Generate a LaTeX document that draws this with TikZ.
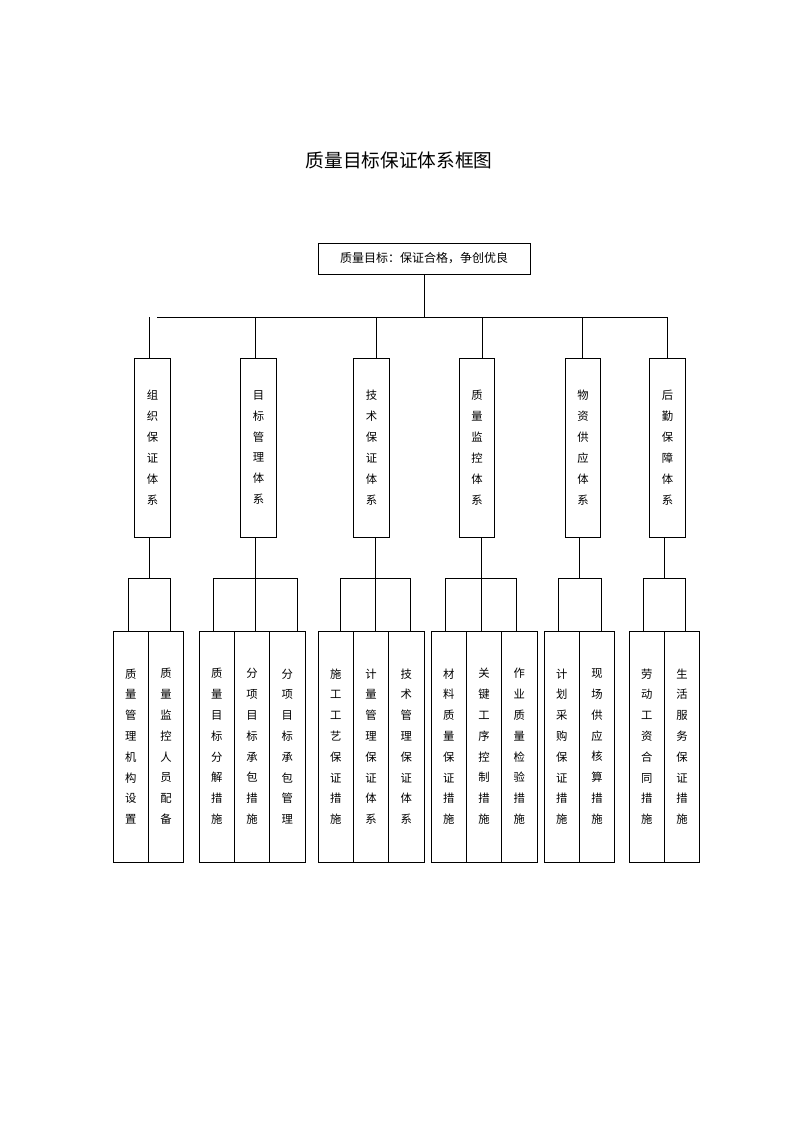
\documentclass[tikz,border=0pt]{standalone}
\usepackage{fontspec}
\newfontfamily\cjk{Noto Sans CJK SC}
\usetikzlibrary{positioning,calc}
\tikzset{%
	goal/.style     = {draw, rectangle, outer sep=0pt, minimum width=159pt, minimum height=23.25pt, font=\cjk\fontsize{9}{11}\selectfont},
	sysbox/.style   = {draw, rectangle, outer sep=0pt, minimum width=26.6pt, minimum height=134.25pt, align=center, font=\cjk\fontsize{8.5}{15.7}\selectfont}, % second level
	leaf/.style     = {draw, rectangle, outer sep=0pt, minimum width=26.5pt, minimum height=173.25pt, align=center, font=\cjk\fontsize{8.5}{15.6}\selectfont}, % measures
	waypoint/.style = {coordinate},
}
\begin{document}
\begin{tikzpicture}[x=0.75pt,y=-0.75pt,line width=0.6pt]
	\useasboundingbox (0,0) rectangle (800,1132);
	\node[font=\cjk\fontsize{14}{16}\selectfont] (title) at (399,160) {质量目标保证体系框图};
	\node[goal] (goal) at (424,258.5) {质量目标：保证合格，争创优良};

	% second level
	\node[sysbox] (s1) at (152.5,447.5) {组\\织\\保\\证\\体\\系};
	\node[sysbox] (s2) at (258.5,447.5) {目\\标\\管\\理\\体\\系};
	\node[sysbox] (s3) at (371.5,447.5) {技\\术\\保\\证\\体\\系};
	\node[sysbox] (s4) at (477,447.5) {质\\量\\监\\控\\体\\系};
	\node[sysbox] (s5) at (583,447.5) {物\\资\\供\\应\\体\\系};
	\node[sysbox] (s6) at (667.5,447.5) {后\\勤\\保\\障\\体\\系};

	% measures
	\node[leaf,anchor=north west] (l11) at (113,631) {质\\量\\管\\理\\机\\构\\设\\置};
	\node[leaf] (l12) [right=0pt of l11] {质\\量\\监\\控\\人\\员\\配\\备};
	\node[leaf,anchor=north west] (l21) at (199,631) {质\\量\\目\\标\\分\\解\\措\\施};
	\node[leaf] (l22) [right=0pt of l21] {分\\项\\目\\标\\承\\包\\措\\施};
	\node[leaf] (l23) [right=0pt of l22] {分\\项\\目\\标\\承\\包\\管\\理};
	\node[leaf,anchor=north west] (l31) at (318,631) {施\\工\\工\\艺\\保\\证\\措\\施};
	\node[leaf] (l32) [right=0pt of l31] {计\\量\\管\\理\\保\\证\\体\\系};
	\node[leaf] (l33) [right=0pt of l32] {技\\术\\管\\理\\保\\证\\体\\系};
	\node[leaf,anchor=north west] (l41) at (431,631) {材\\料\\质\\量\\保\\证\\措\\施};
	\node[leaf] (l42) [right=0pt of l41] {关\\键\\工\\序\\控\\制\\措\\施};
	\node[leaf] (l43) [right=0pt of l42] {作\\业\\质\\量\\检\\验\\措\\施};
	\node[leaf,anchor=north west] (l51) at (544,631) {计\\划\\采\\购\\保\\证\\措\\施};
	\node[leaf] (l52) [right=0pt of l51] {现\\场\\供\\应\\核\\算\\措\\施};
	\node[leaf,anchor=north west] (l61) at (629,631) {劳\\动\\工\\资\\合\\同\\措\\施};
	\node[leaf] (l62) [right=0pt of l61] {生\\活\\服\\务\\保\\证\\措\\施};

	% top bar
	\node[waypoint] (hub) at (424,317) {};
	\node[waypoint] (barl) at (157,317) {};
	\node[waypoint] (barr) at (667,317) {};
	\draw (goal.south -| hub) -- (hub);
	\draw (barl) -- (barr);
	\foreach \x [count=\i] in {149,255,376,482,582,667} {
		\coordinate (t\i) at (\x,317);
		\draw (t\i) -- (t\i |- s\i.north);
	}
	\foreach \x [count=\i] in {149,255,375,481,579,664} {
		\coordinate (k\i) at (\x,578);
		\draw (k\i |- s\i.south) -- (k\i);
	}

	% brackets
	\foreach \g/\xs in {1/{128,170},2/{213,255,297},3/{340,375,410},4/{445,481,516},5/{558,601},6/{643,685}} {
		\foreach \x [count=\j] in \xs {
			\coordinate (d\g\j) at (\x,578);
			\draw (d\g\j) -- (d\g\j |- l\g1.north);
		}
	}
	\draw (d11) -- (d12);
	\draw (d21) -- (d23);
	\draw (d31) -- (d33);
	\draw (d41) -- (d43);
	\draw (d51) -- (d52);
	\draw (d61) -- (d62);
\end{tikzpicture}
\end{document}
